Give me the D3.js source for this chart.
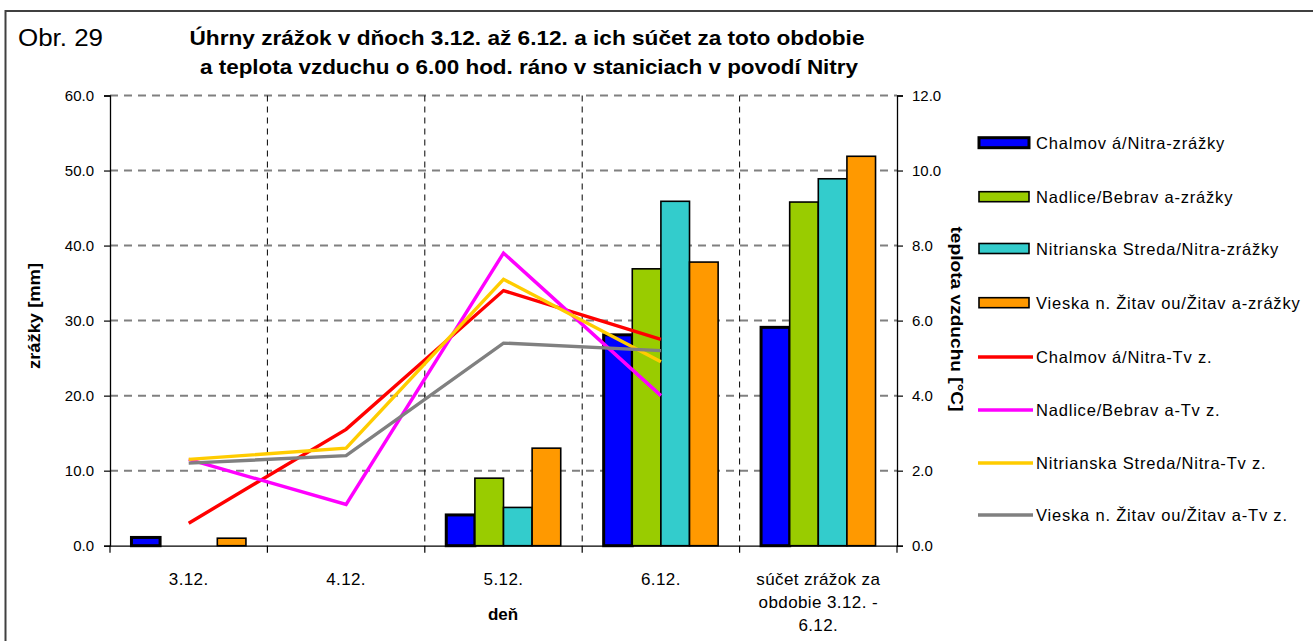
<!DOCTYPE html>
<html>
<head>
<meta charset="utf-8">
<script src="https://cdn.jsdelivr.net/npm/d3@7"></script>
<style>
  body { margin: 0; background: #fff; overflow: hidden; }
  svg { display: block; }
  text { font-family: Arial, "Liberation Sans", sans-serif; }
</style>
</head>
<body>
<svg id="chart" width="1313" height="641"></svg>
<script>
// Categories (days + period sum)
const categories = ["3.12.", "4.12.", "5.12.", "6.12.", "súčet zrážok za obdobie 3.12. - 6.12."];
const categoryLines = [["3.12."], ["4.12."], ["5.12."], ["6.12."], ["súčet zrážok za", "obdobie 3.12. -", "6.12."]];

// Precipitation [mm] per station
const rainChalmova   = [1.1, null, 4.1, 28.1, 29.1];
const rainNadlice    = [null, null, 9.0, 36.9, 45.8];
const rainNitrStreda = [null, null, 5.1, 45.9, 48.9];
const rainVieska     = [1.0, null, 13.0, 37.8, 51.9];

// Air temperature at 6:00 [°C] per station (days only)
const tempChalmova   = [0.6, 3.1, 6.8, 5.5];
const tempNadlice    = [2.3, 1.1, 7.8, 4.0];
const tempNitrStreda = [2.3, 2.6, 7.1, 4.9];
const tempVieska     = [2.2, 2.4, 5.4, 5.2];

const leftTicks  = [0, 10, 20, 30, 40, 50, 60];
const rightTicks = [0, 2, 4, 6, 8, 10, 12];

const barSeries = [
  { name: "Chalmov á/Nitra-zrážky", values: rainChalmova, color: "#0000FF", stroke: 3 },
  { name: "Nadlice/Bebrav a-zrážky", values: rainNadlice, color: "#99CC00", stroke: 1.6 },
  { name: "Nitrianska Streda/Nitra-zrážky", values: rainNitrStreda, color: "#33CCCC", stroke: 1.6 },
  { name: "Vieska n. Žitav ou/Žitav a-zrážky", values: rainVieska, color: "#FF9900", stroke: 1.6 }
];
const lineSeries = [
  { name: "Chalmov á/Nitra-Tv z.", values: tempChalmova, color: "#FF0000" },
  { name: "Nadlice/Bebrav a-Tv z.", values: tempNadlice, color: "#FF00FF" },
  { name: "Nitrianska Streda/Nitra-Tv z.", values: tempNitrStreda, color: "#FFCC00" },
  { name: "Vieska n. Žitav ou/Žitav a-Tv z.", values: tempVieska, color: "#808080" }
];

const svg = d3.select("#chart");
const plot = { left: 110, right: 897, top: 95.5, bottom: 545.7 };

// Outer frame (top and left edges)
svg.append("path")
  .attr("d", `M5.5,641 L5.5,11 L1313,11`)
  .attr("fill", "none").attr("stroke", "#404040").attr("stroke-width", 2);

const x = d3.scaleBand().domain(categories).range([plot.left, plot.right]);
const yL = d3.scaleLinear().domain([0, 60]).range([plot.bottom, plot.top]);
const yR = d3.scaleLinear().domain([0, 12]).range([plot.bottom, plot.top]);
const bw = x.bandwidth();
const barW = bw / (4 + 1.5);
const sub = d3.scaleBand().domain(d3.range(4)).range([barW * 0.75, bw - barW * 0.75]);

// Horizontal gridlines
svg.append("g").selectAll("line").data(leftTicks.slice(1)).join("line")
  .attr("x1", plot.left).attr("x2", plot.right)
  .attr("y1", d => yL(d)).attr("y2", d => yL(d))
  .attr("stroke", "#808080").attr("stroke-width", 2).attr("stroke-dasharray", "8,6");

// Vertical gridlines between categories
svg.append("g").selectAll("line").data(categories.slice(1)).join("line")
  .attr("x1", d => x(d)).attr("x2", d => x(d))
  .attr("y1", plot.top).attr("y2", plot.bottom)
  .attr("stroke", "#000").attr("stroke-width", 1).attr("stroke-dasharray", "6,5");

// Bars
barSeries.forEach((s, i) => {
  svg.append("g").selectAll("rect")
    .data(s.values.map((v, j) => ({ v, c: categories[j] })).filter(d => d.v != null))
    .join("rect")
    .attr("x", d => x(d.c) + sub(i))
    .attr("width", sub.bandwidth())
    .attr("y", d => yL(d.v))
    .attr("height", d => yL(0) - yL(d.v))
    .attr("fill", s.color)
    .attr("stroke", "#000")
    .attr("stroke-width", s.stroke);
});

// Temperature lines
const line = d3.line().x((d, j) => x(categories[j]) + bw / 2).y(d => yR(d));
lineSeries.forEach(s => {
  svg.append("path").datum(s.values)
    .attr("d", line)
    .attr("fill", "none")
    .attr("stroke", s.color)
    .attr("stroke-width", 3.4)
    .attr("stroke-linejoin", "miter");
});

// Axes
const axisL = svg.append("g").attr("transform", `translate(${plot.left},0)`)
  .call(d3.axisLeft(yL).tickValues(leftTicks).tickFormat(d3.format(".1f")).tickSize(6).tickPadding(10));
const axisR = svg.append("g").attr("transform", `translate(${plot.right},0)`)
  .call(d3.axisRight(yR).tickValues(rightTicks).tickFormat(d3.format(".1f")).tickSize(6).tickPadding(9));
const axisB = svg.append("g").attr("transform", `translate(0,${plot.bottom})`)
  .call(d3.axisBottom(x).tickSize(0).tickFormat(""));
[axisL, axisR, axisB].forEach(g => {
  g.select(".domain").attr("stroke", "#000").attr("stroke-width", 1.3);
  g.selectAll(".tick line").attr("stroke", "#000").attr("stroke-width", 1.2);
  g.selectAll("text").attr("font-size", 15).attr("fill", "#000")
    .style("font-family", "Arial, 'Liberation Sans', sans-serif");
});
// Bottom ticks at category boundaries
svg.append("g").selectAll("line")
  .data(categories.map(c => x(c)).concat([plot.right]))
  .join("line")
  .attr("x1", d => d).attr("x2", d => d)
  .attr("y1", plot.bottom).attr("y2", plot.bottom + 7)
  .attr("stroke", "#000").attr("stroke-width", 1.2);

// Category labels
categoryLines.forEach((lines, j) => {
  lines.forEach((t, k) => {
    svg.append("text")
      .attr("x", x(categories[j]) + bw / 2)
      .attr("y", 585 + k * 23)
      .attr("text-anchor", "middle")
      .attr("font-size", 17)
      .attr("letter-spacing", 0.4)
      .text(t);
  });
});

// Axis titles
svg.append("text")
  .attr("x", 503).attr("y", 620).attr("text-anchor", "middle")
  .attr("font-size", 17).attr("font-weight", "bold").text("deň");
svg.append("text")
  .attr("transform", "translate(40,316) rotate(-90)")
  .attr("text-anchor", "middle").attr("font-size", 17).attr("font-weight", "bold")
  .attr("textLength", 106).attr("lengthAdjust", "spacingAndGlyphs")
  .text("zrážky [mm]");
svg.append("text")
  .attr("transform", "translate(951,319) rotate(90)")
  .attr("text-anchor", "middle").attr("font-size", 17).attr("font-weight", "bold")
  .attr("textLength", 185).attr("lengthAdjust", "spacingAndGlyphs")
  .text("teplota vzduchu [°C]");

// Title
svg.append("text")
  .attr("x", 18).attr("y", 46).attr("font-size", 23)
  .attr("textLength", 85).attr("lengthAdjust", "spacingAndGlyphs")
  .text("Obr. 29");
svg.append("text")
  .attr("x", 527).attr("y", 45).attr("text-anchor", "middle")
  .attr("font-size", 21).attr("font-weight", "bold")
  .attr("textLength", 675).attr("lengthAdjust", "spacingAndGlyphs")
  .text("Úhrny zrážok v dňoch 3.12. až 6.12. a ich súčet za toto obdobie");
svg.append("text")
  .attr("x", 529).attr("y", 74).attr("text-anchor", "middle")
  .attr("font-size", 21).attr("font-weight", "bold")
  .attr("textLength", 658).attr("lengthAdjust", "spacingAndGlyphs")
  .text("a teplota vzduchu o 6.00 hod. ráno v staniciach v povodí Nitry");

// Legend
const legendY = [142.7, 196.7, 248.5, 302.7, 357, 410, 463, 515];
const legend = svg.append("g");
barSeries.forEach((s, i) => {
  legend.append("rect")
    .attr("x", 979).attr("y", legendY[i] - 5).attr("width", 50).attr("height", 10)
    .attr("fill", s.color).attr("stroke", "#000").attr("stroke-width", s.stroke);
});
lineSeries.forEach((s, i) => {
  legend.append("line")
    .attr("x1", 978).attr("x2", 1033)
    .attr("y1", legendY[i + 4]).attr("y2", legendY[i + 4])
    .attr("stroke", s.color).attr("stroke-width", 3.4);
});
barSeries.concat(lineSeries).forEach((s, i) => {
  legend.append("text")
    .attr("x", 1036).attr("y", legendY[i] + 6)
    .attr("font-size", 16.5).attr("letter-spacing", 0.8).text(s.name);
});
</script>
</body>
</html>
